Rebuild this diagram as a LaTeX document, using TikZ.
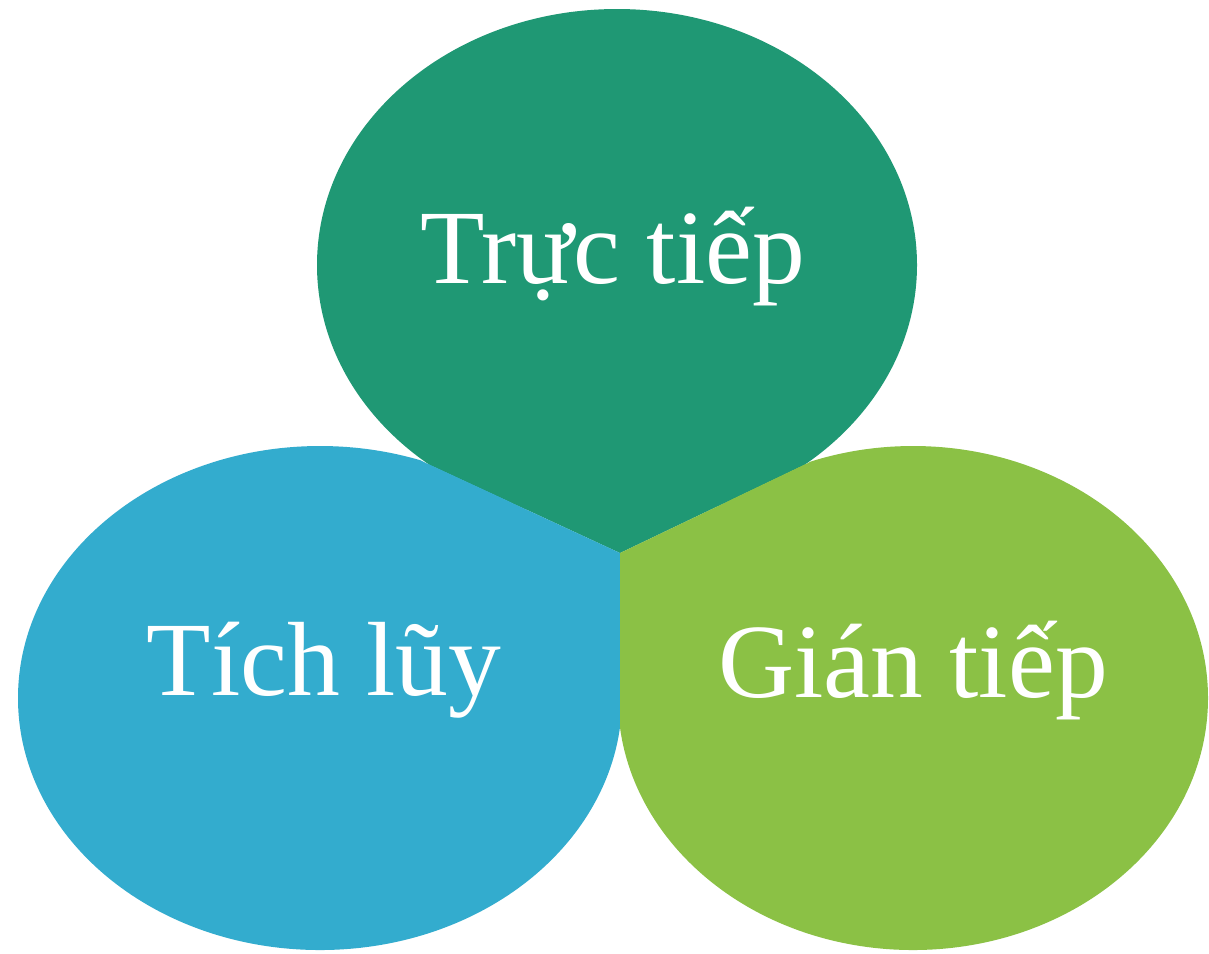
\documentclass[tikz,border=0pt]{standalone}
\usepackage{fontspec}
\setmainfont{Liberation Serif}
\definecolor{cTop}{RGB}{31,152,116}
\definecolor{cLeft}{RGB}{51,172,206}
\definecolor{cRight}{RGB}{139,193,69}
\begin{document}
\begin{tikzpicture}[x=0.01cm,y=-0.01cm,
  lbl/.style={text=white,font=\fontsize{30}{36}\selectfont,anchor=base,inner sep=0pt}]
\useasboundingbox (0,0) rectangle (1209,953);
\fill[white] (0,0) rectangle (1209,953);
\coordinate (C) at (620,553);
\coordinate (GB) at (428,464);
\coordinate (GL) at (806,464);
\coordinate (BL) at (620,727);
\coordinate (cG) at (617,265);
\coordinate (cB) at (320,698);
\coordinate (cL) at (913,698);
% top (green)
\begin{scope}
  \clip (-10,-10) -- (-10,464) -- (GB) -- (C) -- (GL) -- (1220,464) -- (1220,-10) -- cycle;
  \fill[cTop] (cG) ellipse [x radius=300, y radius=256];
\end{scope}
\fill[cTop] (GB) -- (C) -- (GL) -- cycle;
% left (blue)
\begin{scope}
  \clip (-10,250) -- (GB) -- (C) -- (620,1000) -- (-10,1000) -- cycle;
  \fill[cLeft] (cB) ellipse [x radius=302, y radius=252];
\end{scope}
\fill[cLeft] (GB) -- (C) -- (BL) -- (cB) -- cycle;
% right (light green)
\begin{scope}
  \clip (C) -- (GL) -- (1220,250) -- (1220,1000) -- (620,1000) -- cycle;
  \fill[cRight] (cL) ellipse [x radius=295, y radius=252];
\end{scope}
\fill[cRight] (C) -- (GL) -- (cL) -- (BL) -- cycle;
% labels
\node[lbl] (t) at (613,283) {Trực tiếp};
\node[lbl] (l) at (324,695) {Tích lũy};
\node[lbl] (r) at (913,697) {Gián tiếp};
\end{tikzpicture}
\end{document}
